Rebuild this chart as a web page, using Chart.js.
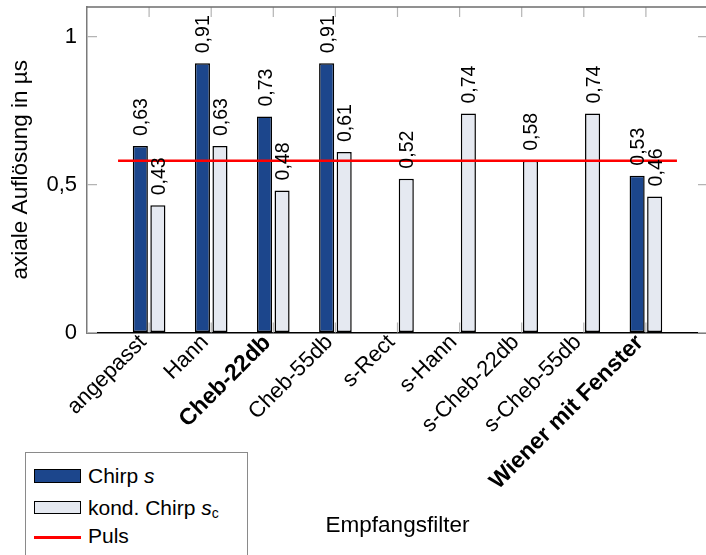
<!DOCTYPE html>
<html>
<head>
<meta charset="utf-8">
<script src="https://cdn.jsdelivr.net/npm/chart.js@4/dist/chart.umd.min.js"></script>
<style>
  html, body { margin: 0; padding: 0; background: #fff; overflow: hidden; }
  #wrap { position: relative; width: 706px; height: 555px; overflow: hidden; }
  #chart { position: absolute; left: 0; top: 0; }
  #legend {
    position: absolute; left: 25px; top: 452px; width: 221px; height: 130px;
    border: 1px solid #8a8a8a; background: #fff;
    font-family: "Liberation Sans", Arial, sans-serif; font-size: 21px; color: #000;
  }
  #legend .sw { position: absolute; left: 8px; width: 47px; box-sizing: border-box; border: 1.5px solid #000; }
  #legend .ln { position: absolute; left: 8px; width: 47px; height: 2.5px; background: #ff0000; }
  #legend .tx { position: absolute; left: 62px; line-height: 24px; white-space: nowrap; }
  #legend sub { font-size: 14px; vertical-align: -3px; font-style: normal; }
</style>
</head>
<body>
<div id="wrap">
  <canvas id="chart" width="720" height="555"></canvas>
  <div id="legend">
    <div class="sw" style="top:16px;height:14px;background:#1c468c;"></div>
    <div class="tx" style="top:11px;">Chirp <i>s</i></div>
    <div class="sw" style="top:48px;height:13px;background:#e5e9f1;"></div>
    <div class="tx" style="top:43px;">kond. Chirp <i>s</i><sub>c</sub></div>
    <div class="ln" style="top:83px;"></div>
    <div class="tx" style="top:71px;">Puls</div>
  </div>
</div>
<script>
// Receive filters (x categories)
const categories = ['angepasst', 'Hann', 'Cheb-22db', 'Cheb-55db', 's-Rect', 's-Hann',
                    's-Cheb-22db', 's-Cheb-55db', 'Wiener mit Fenster'];
// Filters set in bold on the axis
const boldCategories = ['Cheb-22db', 'Wiener mit Fenster'];
// Axial resolution in µs
const chirpS = [0.63, 0.91, 0.73, 0.91, null, null, null, null, 0.53];
const kondChirpSc = [0.43, 0.63, 0.48, 0.61, 0.52, 0.74, 0.58, 0.74, 0.46];
const pulsValue = 0.58;
const pulsSpan = [-0.5, 8.5];
const yTicks = [0, 0.5, 1];

const FONT = '"Liberation Sans", Arial, sans-serif';
const LABEL_SIZE = 19.5;
const fmt = v => String(v).replace('.', ',');

const toPoints = arr => arr.map((v, i) => ({ x: i, y: v }));

// Rotated value labels above each bar
const valueLabels = {
  id: 'valueLabels',
  afterDatasetsDraw(chart) {
    const ctx = chart.ctx;
    ctx.save();
    ctx.font = LABEL_SIZE + 'px ' + FONT;
    ctx.fillStyle = '#000';
    ctx.textAlign = 'left';
    ctx.textBaseline = 'alphabetic';
    chart.data.datasets.forEach((ds, di) => {
      if (ds.type !== 'bar') return;
      const meta = chart.getDatasetMeta(di);
      meta.data.forEach((bar, i) => {
        const v = ds.data[i].y;
        if (v == null) return;
        ctx.save();
        ctx.translate(bar.x + 0.36 * LABEL_SIZE, bar.y - 10);
        ctx.rotate(-Math.PI / 2);
        ctx.fillText(fmt(v), 0, 0);
        ctx.restore();
      });
    });
    ctx.restore();
  }
};

// Box frame with inward tick marks on all four sides
const frameTicks = {
  id: 'frameTicks',
  beforeDatasetsDraw(chart) {
    const { ctx, chartArea: a, scales: { x, y } } = chart;
    ctx.save();
    ctx.strokeStyle = '#b4b4b4';
    ctx.lineWidth = 1.2;
    ctx.beginPath();
    x.ticks.forEach(t => {
      const px = x.getPixelForValue(t.value);
      ctx.moveTo(px, a.top); ctx.lineTo(px, a.top + 10);
      ctx.moveTo(px, a.bottom); ctx.lineTo(px, a.bottom - 10);
    });
    y.ticks.forEach(t => {
      const py = y.getPixelForValue(t.value);
      ctx.moveTo(a.left, py); ctx.lineTo(a.left + 10, py);
      ctx.moveTo(a.right, py); ctx.lineTo(a.right - 10, py);
    });
    ctx.stroke();
    ctx.strokeStyle = '#6e6e6e';
    ctx.lineWidth = 1.5;
    ctx.beginPath();
    ctx.moveTo(a.left, a.top); ctx.lineTo(a.right, a.top); ctx.lineTo(a.right, a.bottom);
    ctx.stroke();
    ctx.restore();
  }
};

new Chart(document.getElementById('chart'), {
  data: {
    datasets: [
      {
        type: 'line', label: 'Puls', order: 0,
        data: pulsSpan.map(x => ({ x, y: pulsValue })),
        borderColor: '#ff0000', borderWidth: 2.5, pointRadius: 0, fill: false
      },
      {
        type: 'bar', label: 'Chirp s', order: 1,
        data: toPoints(chirpS),
        backgroundColor: '#1c468c', borderColor: '#000', borderWidth: 1.5, borderSkipped: false,
        categoryPercentage: 0.565, barPercentage: 0.86
      },
      {
        type: 'bar', label: 'kond. Chirp sc', order: 1,
        data: toPoints(kondChirpSc),
        backgroundColor: '#e5e9f1', borderColor: '#000', borderWidth: 1.5, borderSkipped: false,
        categoryPercentage: 0.565, barPercentage: 0.86
      }
    ]
  },
  options: {
    responsive: false,
    animation: false,
    layout: { padding: { top: 7, right: 12, left: 0, bottom: 0 } },
    plugins: { legend: { display: false }, tooltip: { enabled: false } },
    scales: {
      x: {
        type: 'linear', min: -1, max: 9, offset: false,
        afterBuildTicks: s => { s.ticks = categories.map((_, i) => ({ value: i })); },
        afterFit: s => { s.height = 222.5; s.paddingLeft = 0; s.paddingRight = 0; },
        grid: { display: true, drawOnChartArea: false, drawTicks: false },
        border: { display: true, color: '#000', width: 1.5 },
        ticks: {
          autoSkip: false, minRotation: 45, maxRotation: 45, padding: -3, labelOffset: -6, color: '#000',
          callback: v => categories[v],
          font: ctx => {
            const bold = ctx.tick && boldCategories.includes(categories[ctx.tick.value]);
            return { family: FONT, size: bold ? 23 : 22, weight: bold ? 'bold' : 'normal' };
          }
        },
        title: {
          display: true, text: 'Empfangsfilter', color: '#000',
          font: { family: FONT, size: 22.5 }, padding: { top: 0, bottom: 16 }
        }
      },
      y: {
        min: 0, max: 1.1,
        afterBuildTicks: s => { s.ticks = yTicks.map(v => ({ value: v })); },
        afterFit: s => { s.width = 87; s.paddingTop = 0; s.paddingBottom = 0; },
        grid: { display: true, drawOnChartArea: false, drawTicks: false },
        border: { display: true, color: '#7a7a7a', width: 1.5 },
        ticks: {
          padding: 10, color: '#000',
          font: { family: FONT, size: 22 },
          callback: v => fmt(v)
        },
        title: {
          display: true, text: 'axiale Auflösung in µs', color: '#000',
          font: { family: FONT, size: 22.5 }, padding: { top: 7, bottom: 0 }
        }
      }
    }
  },
  plugins: [frameTicks, valueLabels]
});
</script>
</body>
</html>
